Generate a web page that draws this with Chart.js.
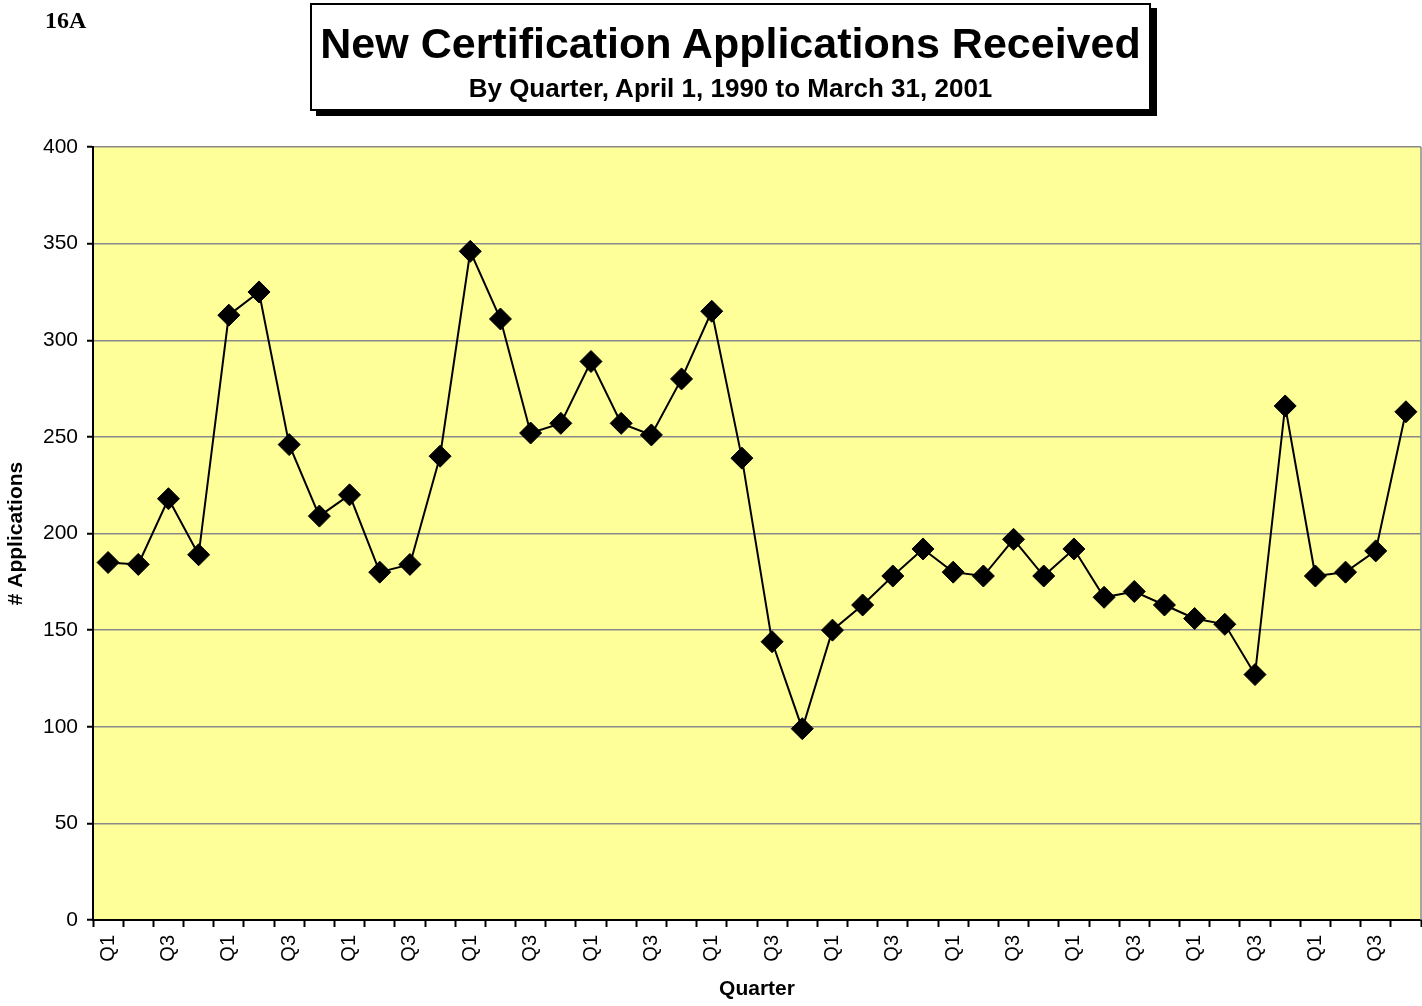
<!DOCTYPE html>
<html>
<head>
<meta charset="utf-8">
<title>New Certification Applications Received</title>
<script src="https://cdn.jsdelivr.net/npm/chart.js@4.4.1/dist/chart.umd.min.js"></script>
<style>
  body { margin: 0; background: #fff; }
  #wrap { position: relative; width: 1422px; height: 1006px; overflow: hidden; }
  #myChart { position: absolute; left: 0; top: 0; }
  .pageNo {
    position: absolute; left: 45px; top: 8px;
    font: bold 24px "Liberation Serif", "Times New Roman", serif;
    line-height: 24px; color: #000;
  }
  .titleBox {
    position: absolute; left: 310px; top: 3px; width: 841px; height: 108px;
    box-sizing: border-box; border: 2px solid #000; background: #fff;
    box-shadow: 6px 5px 0 #000;
    font-family: "Liberation Sans", Arial, sans-serif; color: #000; text-align: center;
  }
  .titleBox .main { position: absolute; left: 0; right: 0; top: 14px; font-weight: bold; font-size: 43px; line-height: 48px; }
  .titleBox .sub { position: absolute; left: 0; right: 0; top: 68px; font-weight: bold; font-size: 26px; line-height: 30px; }
</style>
</head>
<body>
<div id="wrap">
  <canvas id="myChart" width="1422" height="1006"></canvas>
  <div class="pageNo">16A</div>
  <div class="titleBox">
    <div class="main">New Certification Applications Received</div>
    <div class="sub">By Quarter, April 1, 1990 to March 31, 2001</div>
  </div>
</div>
<script>
// fiscal quarters, April 1990 .. March 2001
var quarters = [
  'Q1','Q2','Q3','Q4', 'Q1','Q2','Q3','Q4', 'Q1','Q2','Q3','Q4',
  'Q1','Q2','Q3','Q4', 'Q1','Q2','Q3','Q4', 'Q1','Q2','Q3','Q4',
  'Q1','Q2','Q3','Q4', 'Q1','Q2','Q3','Q4', 'Q1','Q2','Q3','Q4',
  'Q1','Q2','Q3','Q4', 'Q1','Q2','Q3','Q4'
]
// which labels get printed under the axis
var shownQuarters = ['Q1', 'Q3']

var applications = [
  185, 184, 218, 189, 313, 325, 246, 209, 220, 180, 184,
  240, 346, 311, 252, 257, 289, 257, 251, 280, 315, 239,
  144, 99, 150, 163, 178, 192, 180, 178, 197, 178, 192,
  167, 170, 163, 156, 153, 127, 266, 178, 180, 191, 263
]

var yTicks = [0, 50, 100, 150, 200, 250, 300, 350, 400]

var fonte = '"Liberation Sans", Arial, sans-serif'

// yellow plot area + gray right border
const plotBack = {
  id: 'plotBack',
  beforeDraw(chart) {
    const a = chart.chartArea
    const ctx = chart.ctx
    ctx.save()
    ctx.fillStyle = '#FFFF99'
    ctx.fillRect(a.left, a.top, a.right - a.left, a.bottom - a.top)
    ctx.restore()
  },
  afterDraw(chart) {
    const a = chart.chartArea
    const ctx = chart.ctx
    ctx.save()
    ctx.strokeStyle = '#8a8a8a'
    ctx.lineWidth = 1.5
    ctx.beginPath()
    ctx.moveTo(a.right, a.top)
    ctx.lineTo(a.right, a.bottom)
    ctx.stroke()
    ctx.restore()
  }
}

const data = {
  labels: quarters,
  datasets: [{
    label: '# Applications',
    data: applications,
    borderColor: '#000',
    borderWidth: 2,
    backgroundColor: '#000',
    pointStyle: 'rectRot',
    pointRadius: 11,
    pointBorderWidth: 1,
    pointBackgroundColor: '#000',
    pointBorderColor: '#000',
    tension: 0
  }]
}

const config = {
  type: 'line',
  data: data,
  options: {
    responsive: false,
    animation: false,
    layout: {
      autoPadding: false,
      padding: { top: 147, right: 1, bottom: 0, left: 0 }
    },
    plugins: {
      legend: { display: false },
      tooltip: { enabled: false }
    },
    scales: {
      x: {
        offset: true,
        afterFit: function (scale) {
          scale.height = 86
          scale.paddingLeft = 0
          scale.paddingRight = 0
        },
        border: { color: '#000', width: 2 },
        grid: {
          offset: true,
          drawOnChartArea: false,
          drawTicks: true,
          tickLength: 7,
          tickColor: '#000',
          tickWidth: 2
        },
        ticks: {
          autoSkip: false,
          minRotation: 90,
          maxRotation: 90,
          padding: 8,
          color: '#000',
          font: { family: fonte, size: 20 },
          callback: function (val, i) {
            var q = quarters[i]
            return shownQuarters.indexOf(q) >= 0 ? q : ''
          }
        },
        title: {
          display: true,
          text: 'Quarter',
          color: '#000',
          font: { family: fonte, size: 21, weight: 'bold' },
          padding: { top: 4, bottom: 4 }
        }
      },
      y: {
        min: 0,
        max: 400,
        afterFit: function (scale) {
          scale.width = 93
          scale.paddingTop = 0
          scale.paddingBottom = 0
        },
        afterBuildTicks: function (scale) {
          scale.ticks = yTicks.map(function (v) { return { value: v } })
        },
        border: { color: '#000', width: 2 },
        grid: {
          color: '#8a8a8a',
          lineWidth: 1.5,
          drawTicks: true,
          tickLength: 6,
          tickColor: '#000',
          tickWidth: 2
        },
        ticks: {
          padding: 9,
          color: '#000',
          font: { family: fonte, size: 21 }
        },
        title: {
          display: true,
          text: '# Applications',
          color: '#000',
          font: { family: fonte, size: 21, weight: 'bold' },
          padding: { top: 4, bottom: 4 }
        }
      }
    }
  },
  plugins: [plotBack]
}

const myChart = new Chart(document.getElementById('myChart'), config)
</script>
</body>
</html>
